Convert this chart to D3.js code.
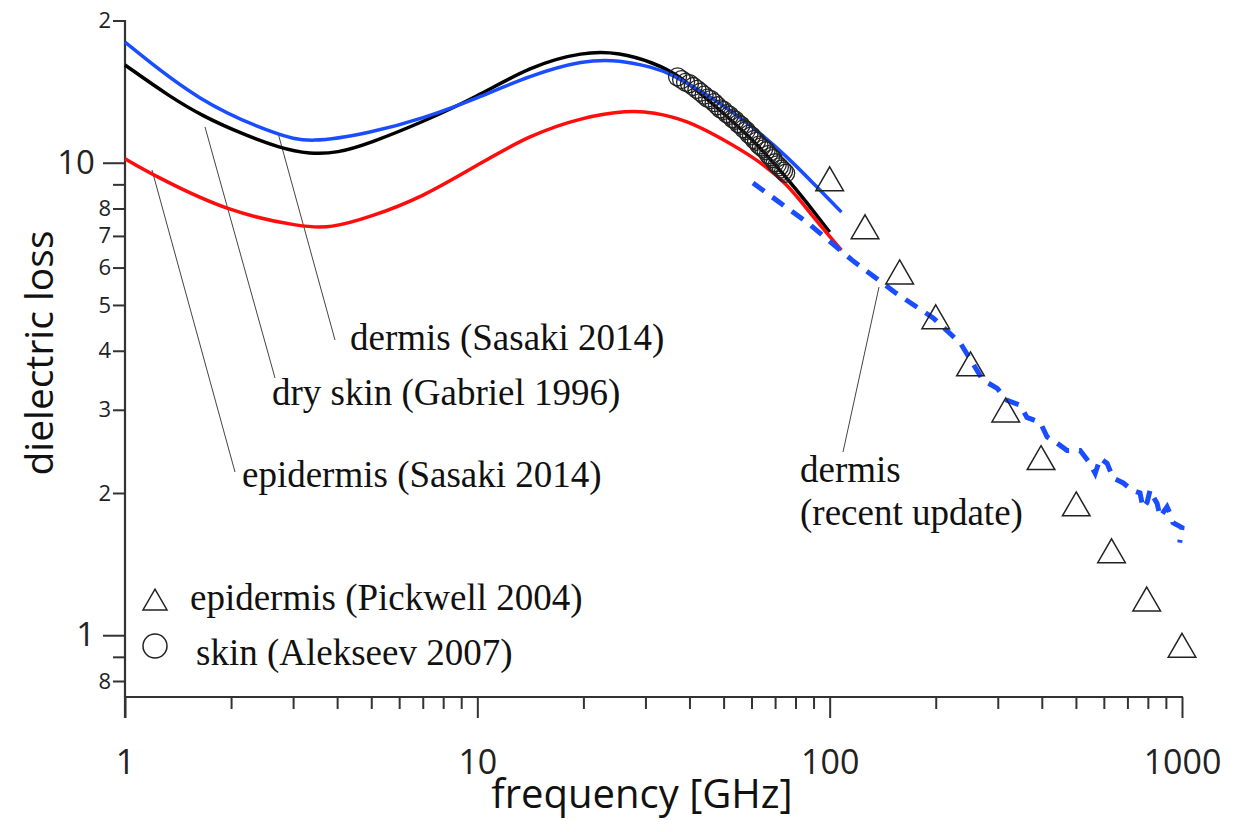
<!DOCTYPE html>
<html>
<head>
<meta charset="utf-8">
<script src="https://cdn.jsdelivr.net/npm/d3@7"></script>
<style>
  body { margin: 0; background: #fff; }
  .tick text { font-family: "Open Sans", sans-serif; fill: #222; }
  .note { font-family: "Liberation Serif", serif; font-size: 37px; fill: #111; }
  .axis-title { font-family: "Open Sans", sans-serif; fill: #111; }
</style>
</head>
<body>
<svg id="chart" width="1235" height="832"></svg>
<script>
// dielectric loss of skin vs frequency (log-log)
var blueFreq = [1, 1.63, 2.7, 3.35, 4.96, 7, 10, 14.1, 20, 25.4, 31.5, 35.2, 48.9, 60.6, 75.7, 89.7, 108];
var blueLoss = [18.0, 13.4, 11.45, 11.0, 11.56, 12.4, 13.7, 15.3, 16.5, 16.5, 15.9, 15.5, 13.4, 11.9, 10.3, 9.06, 7.86];

var blackFreq = [1, 1.34, 1.66, 2.12, 2.75, 3.35, 4.0, 4.96, 7, 10, 14.1, 20, 25.4, 31.5, 37.6, 48.9, 60.6, 75.7, 86.3, 100];
var blackLoss = [16.1, 13.8, 12.56, 11.56, 10.74, 10.43, 10.48, 11.0, 12.2, 13.8, 16.0, 17.2, 17.1, 16.3, 15.3, 12.9, 11.2, 9.28, 8.22, 7.13];

var redFreq = [1, 1.2, 1.99, 3.2, 3.82, 4.96, 7, 10, 14.1, 20, 26.8, 31.5, 39.4, 48.9, 60.6, 75.7, 89.7, 108];
var redLoss = [10.2, 9.42, 7.83, 7.31, 7.27, 7.67, 8.46, 9.89, 11.45, 12.5, 12.9, 12.8, 12.3, 11.3, 10.3, 9.06, 7.67, 6.53];

var dashFreq = [60.6, 86.8, 115.8, 153, 197, 235, 272, 299, 319, 347, 363, 396, 414, 442, 472, 514, 548, 567, 586, 613, 638, 681, 720, 760, 775, 796, 812, 830, 850, 867, 907, 925, 943, 1000, 985];
var dashLoss = [9.06, 7.45, 6.22, 5.32, 4.69, 4.15, 3.47, 3.33, 3.14, 3.07, 2.89, 2.82, 2.63, 2.55, 2.46, 2.46, 2.31, 2.20, 2.37, 2.31, 2.15, 2.10, 2.03, 2.00, 1.86, 1.91, 2.03, 1.96, 1.90, 1.78, 1.87, 1.81, 1.73, 1.69, 1.57];

var pickFreq = [100, 126, 158, 200, 251, 316, 398, 501, 631, 794, 1000];
var pickLoss = [9.07, 7.18, 5.76, 4.63, 3.68, 2.94, 2.33, 1.86, 1.48, 1.17, 0.934];

var alekFreq = [37, 38, 39, 40, 41, 42, 43, 44, 45, 46, 47, 48, 49, 50, 51, 52, 53, 54, 55, 56, 57, 58, 59, 60,
                61, 62, 63, 64, 65, 66, 67, 68, 69, 70, 71, 72, 73, 74, 75];
var alekLoss = [15.2, 15.0, 14.8, 14.7, 14.5, 14.3, 14.1, 13.9, 13.7, 13.6, 13.4, 13.2, 13.0, 12.9, 12.7, 12.6, 12.4, 12.3, 12.1, 12.0,
                11.8, 11.7, 11.5, 11.4, 11.2, 11.1, 10.9, 10.8, 10.7, 10.6, 10.4, 10.3, 10.2, 10.0, 9.9, 9.8, 9.7, 9.6, 9.5];

var xMajor = [1, 10, 100, 1000];
var xMinor = [2, 3, 4, 5, 6, 7, 8, 9, 20, 30, 40, 50, 60, 70, 80, 90, 200, 300, 400, 500, 600, 700, 800, 900];
var yMajor = [1, 10];
var yMinor = [0.8, 0.9, 2, 3, 4, 5, 6, 7, 8, 9, 20];
var yMinorText = ["8", "", "2", "3", "4", "5", "6", "7", "8", "", "2"];

var zip = function (fs, vs) {
  return fs.map(function (f, i) { return {f: f, v: vs[i]}; });
};

var svg = d3.select("#chart");

var x = d3.scaleLog().domain([1, 1000]).range([125, 1182]);
var y = d3.scaleLog().domain([0.74, 20]).range([697, 20.5]);

var line = d3.line()
  .x(function (d) { return x(d.f); })
  .y(function (d) { return y(d.v); });

var smooth = d3.line()
  .x(function (d) { return x(d.f); })
  .y(function (d) { return y(d.v); })
  .curve(d3.curveBasis);

// axes
var axisColor = "#333";

svg.append("g")
  .attr("transform", "translate(0,697)")
  .call(d3.axisBottom(x).tickValues(xMinor).tickSize(12).tickFormat(""))
  .call(function (g) { g.select(".domain").remove(); });

svg.append("g")
  .attr("transform", "translate(0,697)")
  .call(d3.axisBottom(x).tickValues(xMajor).tickSize(21).tickPadding(32)
    .tickFormat(d3.format("d")))
  .call(function (g) { g.select(".domain").remove(); })
  .selectAll("text").style("font-size", "34px");

svg.append("g")
  .attr("transform", "translate(125,0)")
  .call(d3.axisLeft(y).tickValues(yMinor).tickSize(12).tickPadding(2)
    .tickFormat(function (d, i) { return yMinorText[i]; }))
  .call(function (g) { g.select(".domain").remove(); })
  .selectAll("text").style("font-size", "22px");

svg.append("g")
  .attr("transform", "translate(125,0)")
  .call(d3.axisLeft(y).tickValues(yMajor).tickSize(22).tickPadding(8)
    .tickFormat(d3.format("d")))
  .call(function (g) { g.select(".domain").remove(); })
  .selectAll("text").style("font-size", "33px");

svg.selectAll(".tick line").attr("stroke", axisColor).attr("stroke-width", 2);

svg.append("line")
  .attr("x1", 125).attr("x2", 125)
  .attr("y1", 20).attr("y2", 718)
  .attr("stroke", axisColor).attr("stroke-width", 2.2);

svg.append("line")
  .attr("x1", 124).attr("x2", 1183)
  .attr("y1", 697).attr("y2", 697)
  .attr("stroke", axisColor).attr("stroke-width", 2.2);

svg.append("text")
  .attr("class", "axis-title")
  .attr("x", 642)
  .attr("y", 808)
  .attr("text-anchor", "middle")
  .style("font-size", "40px")
  .text("frequency [GHz]");

svg.append("text")
  .attr("class", "axis-title")
  .attr("transform", "translate(53,353) rotate(-90)")
  .attr("text-anchor", "middle")
  .style("font-size", "39px")
  .text("dielectric loss");

// leader lines for the notes
var leaders = [
  [152, 170, 235, 472],
  [205, 127, 275, 378],
  [278, 133, 335, 340],
  [879, 287, 843, 452]
];

svg.selectAll(".leader")
  .data(leaders)
  .enter()
    .append("line")
      .attr("class", "leader")
      .attr("x1", function (d) { return d[0]; })
      .attr("y1", function (d) { return d[1]; })
      .attr("x2", function (d) { return d[2]; })
      .attr("y2", function (d) { return d[3]; })
      .attr("stroke", "#444")
      .attr("stroke-width", 1);

// model curves
var curves = [
  {data: zip(blackFreq, blackLoss), color: "#000"},
  {data: zip(redFreq, redLoss), color: "#ff0d0d"},
  {data: zip(blueFreq, blueLoss), color: "#1a4dff"}
];

svg.selectAll(".curve")
  .data(curves)
  .enter()
    .append("path")
      .attr("class", "curve")
      .attr("d", function (d) { return smooth(d.data); })
      .attr("fill", "none")
      .attr("stroke", function (d) { return d.color; })
      .attr("stroke-width", 3.5);

svg.append("path")
  .attr("d", line(zip(dashFreq, dashLoss)))
  .attr("fill", "none")
  .attr("stroke", "#1a4dff")
  .attr("stroke-width", 5)
  .attr("stroke-dasharray", "14,10");

// measured points
svg.selectAll(".alek")
  .data(zip(alekFreq, alekLoss))
  .enter()
    .append("circle")
      .attr("class", "alek")
      .attr("cx", function (d) { return x(d.f); })
      .attr("cy", function (d) { return y(d.v); })
      .attr("r", 9)
      .attr("fill", "none")
      .attr("stroke", "#222")
      .attr("stroke-width", 1.3);

var tri = d3.symbol().type(d3.symbolTriangle).size(330);

svg.selectAll(".pick")
  .data(zip(pickFreq, pickLoss))
  .enter()
    .append("path")
      .attr("class", "pick")
      .attr("d", tri)
      .attr("transform", function (d) {
        return "translate(" + x(d.f) + "," + y(d.v) + ")";
      })
      .attr("fill", "none")
      .attr("stroke", "#222")
      .attr("stroke-width", 1.5);

// notes
var notes = [
  {x: 350, y: 350, t: "dermis (Sasaki 2014)"},
  {x: 272, y: 405, t: "dry skin (Gabriel 1996)"},
  {x: 242, y: 487, t: "epidermis (Sasaki 2014)"},
  {x: 800, y: 482, t: "dermis"},
  {x: 800, y: 525, t: "(recent update)"},
  {x: 190, y: 610, t: "epidermis (Pickwell 2004)"},
  {x: 196, y: 665, t: "skin (Alekseev 2007)"}
];

svg.selectAll(".note")
  .data(notes)
  .enter()
    .append("text")
      .attr("class", "note")
      .attr("x", function (d) { return d.x; })
      .attr("y", function (d) { return d.y; })
      .text(function (d) { return d.t; });

// legend marks
svg.append("path")
  .attr("d", d3.symbol().type(d3.symbolTriangle).size(250))
  .attr("transform", "translate(155,603)")
  .attr("fill", "none")
  .attr("stroke", "#222")
  .attr("stroke-width", 1.5);

svg.append("circle")
  .attr("cx", 155).attr("cy", 646).attr("r", 12)
  .attr("fill", "none")
  .attr("stroke", "#222")
  .attr("stroke-width", 1.5);
</script>
</body>
</html>
